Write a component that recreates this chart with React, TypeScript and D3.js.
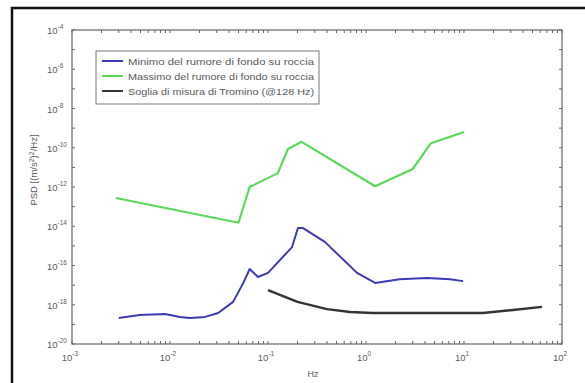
import React, { useRef, useEffect } from "react";
import * as d3 from "d3";

// frequencies (Hz) and PSD values
const minFreq = [0.003, 0.0049, 0.0089, 0.0126, 0.016, 0.0228, 0.031, 0.044, 0.056, 0.065, 0.079, 0.1, 0.176, 0.202, 0.228, 0.38, 0.81, 1.24, 2.2, 4.2, 7.2, 9.8];
const minPsd = [2.1e-19, 3.0e-19, 3.4e-19, 2.4e-19, 2.1e-19, 2.4e-19, 3.8e-19, 1.4e-18, 1.3e-17, 6.6e-17, 2.6e-17, 4.2e-17, 8.7e-16, 8.1e-15, 8.1e-15, 1.6e-15, 4.2e-17, 1.3e-17, 2.0e-17, 2.3e-17, 2.0e-17, 1.6e-17];

const maxFreq = [0.0028, 0.05, 0.065, 0.126, 0.16, 0.22, 1.24, 3.0, 4.6, 10];
const maxPsd = [2.75e-13, 1.5e-14, 1e-12, 5.1e-12, 8.7e-11, 2.0e-10, 1.1e-12, 8.3e-12, 1.7e-10, 6.3e-10];

const tromFreq = [0.1, 0.2, 0.4, 0.69, 1.17, 15.6, 31.6, 62.5];
const tromPsd = [5.6e-18, 1.4e-18, 6.0e-19, 4.3e-19, 3.8e-19, 3.8e-19, 5.4e-19, 7.8e-19];

const xTickExp = [-3, -2, -1, 0, 1, 2];
const yTickExp = [-4, -6, -8, -10, -12, -14, -16, -18, -20];

const seriesLabels = [
  "Minimo del rumore di fondo su roccia",
  "Massimo del rumore di fondo su roccia",
  "Soglia di misura di Tromino (@128 Hz)",
];
const seriesColors = ["#3b3bb5", "#5ad85a", "#333333"];

export default function App() {
  const ref = useRef<SVGSVGElement>(null);

  useEffect(() => {
    if (!ref.current) return;
    const svg = d3.select(ref.current);
    svg.selectAll("*").remove();

    const w = 585, h = 383;
    const margin = { top: 30, right: 23, bottom: 39, left: 72 };
    const font = "Liberation Sans, Arial, sans-serif";
    const textCol = "#5a5a5a";

    svg.append("rect").attr("width", w).attr("height", h).attr("fill", "#fff");
    // outer frame, cut off on right/bottom
    svg.append("rect")
      .attr("x", 12).attr("y", 8)
      .attr("width", w + 20).attr("height", h + 20)
      .attr("fill", "none").attr("stroke", "#111").attr("stroke-width", 2.5);

    const x = d3.scaleLog().domain([1e-3, 1e2]).range([margin.left, w - margin.right]);
    const y = d3.scaleLog().domain([1e-20, 1e-4]).range([h - margin.bottom, margin.top]);
    const [x0, x1] = x.range();
    const [y0, y1] = y.range();

    // minor ticks on x: 1..9 per decade
    const xMinor: number[] = [];
    for (let e = -3; e < 2; e++) for (let m = 1; m <= 9; m++) xMinor.push(m * Math.pow(10, e));
    xMinor.push(100);
    const yMinor: number[] = [];
    for (let e = -20; e <= -4; e++) yMinor.push(Math.pow(10, e));

    const axisCol = "#666";
    const ticks = svg.append("g").attr("stroke", axisCol).attr("stroke-width", 1);
    xMinor.forEach(v => {
      const px = x(v);
      ticks.append("line").attr("x1", px).attr("x2", px).attr("y1", y0).attr("y2", y0 - 3);
      ticks.append("line").attr("x1", px).attr("x2", px).attr("y1", y1).attr("y2", y1 + 3);
    });
    yMinor.forEach(v => {
      const py = y(v);
      ticks.append("line").attr("x1", x0).attr("x2", x0 + 3).attr("y1", py).attr("y2", py);
      ticks.append("line").attr("x1", x1).attr("x2", x1 - 3).attr("y1", py).attr("y2", py);
    });

    svg.append("rect")
      .attr("x", x0).attr("y", y1)
      .attr("width", x1 - x0).attr("height", y0 - y1)
      .attr("fill", "none").attr("stroke", axisCol).attr("stroke-width", 1.2);

    // tick labels
    xTickExp.forEach(e => {
      const t = svg.append("text")
        .attr("x", x(Math.pow(10, e)) - 2).attr("y", y0 + 17)
        .attr("text-anchor", "middle")
        .attr("font-family", font).attr("font-size", 9.5).attr("fill", textCol);
      t.append("tspan").text("10");
      t.append("tspan").attr("dy", -5).attr("font-size", 6.5).text(String(e));
    });
    yTickExp.forEach(e => {
      const t = svg.append("text")
        .attr("x", x0 - 25).attr("y", y(Math.pow(10, e)) + 4)
        .attr("text-anchor", "start")
        .attr("font-family", font).attr("font-size", 9.5).attr("fill", textCol);
      t.append("tspan").text("10");
      t.append("tspan").attr("dy", -5).attr("font-size", 6.5).text(String(e));
    });

    // axis titles
    svg.append("text")
      .attr("x", (x0 + x1) / 2 - 4).attr("y", h - 6)
      .attr("text-anchor", "middle")
      .attr("font-family", font).attr("font-size", 9).attr("fill", textCol)
      .text("Hz");
    const yl = svg.append("text")
      .attr("transform", `translate(37,${(y0 + y1) / 2 - 17}) rotate(-90)`)
      .attr("text-anchor", "middle")
      .attr("font-family", font).attr("font-size", 9.5).attr("fill", textCol);
    yl.append("tspan").text("PSD [(m/s");
    yl.append("tspan").attr("dy", -3).attr("font-size", 7).text("2");
    yl.append("tspan").attr("dy", 3).text(")");
    yl.append("tspan").attr("dy", -3).attr("font-size", 7).text("2");
    yl.append("tspan").attr("dy", 3).text("/Hz]");

    const line = d3.line<[number, number]>()
      .x(d => x(d[0]))
      .y(d => y(d[1]));

    const series: [number, number][][] = [
      minFreq.map((f, i) => [f, minPsd[i]]),
      maxFreq.map((f, i) => [f, maxPsd[i]]),
      tromFreq.map((f, i) => [f, tromPsd[i]]),
    ];
    const widths = [2, 2.2, 2.4];
    // draw green first, then blue, then black
    [1, 0, 2].forEach(i => {
      svg.append("path")
        .datum(series[i])
        .attr("fill", "none")
        .attr("stroke", seriesColors[i])
        .attr("stroke-width", widths[i])
        .attr("stroke-linejoin", "round")
        .attr("d", line as any);
    });

    // legend
    const lg = svg.append("g");
    lg.append("rect")
      .attr("x", 96).attr("y", 51).attr("width", 223).attr("height", 53)
      .attr("fill", "#fff").attr("stroke", "#777").attr("stroke-width", 1);
    seriesLabels.forEach((lab, i) => {
      const ly = 61 + i * 15;
      lg.append("line")
        .attr("x1", 102).attr("x2", 123).attr("y1", ly).attr("y2", ly)
        .attr("stroke", seriesColors[i]).attr("stroke-width", 2);
      lg.append("text")
        .attr("x", 128).attr("y", ly + 3.5)
        .attr("font-family", font).attr("font-size", 9.8).attr("fill", textCol)
        .attr("textLength", 186).attr("lengthAdjust", "spacingAndGlyphs")
        .text(lab);
    });
  }, []);

  return (
    <svg
      ref={ref}
      width={585}
      height={383}
      style={{ position: "absolute", left: 0, top: 0, display: "block" }}
    />
  );
}
